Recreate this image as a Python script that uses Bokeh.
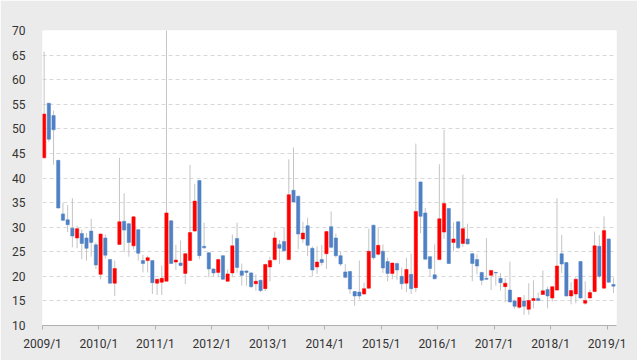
import pandas as pd
from bokeh.plotting import figure
from bokeh.models import ColumnDataSource, FixedTicker, Range1d
from bokeh.embed import file_html
from bokeh.resources import INLINE

# Monthly candles 2009/1 .. 2019/2
months = [d.strftime("%Y/") + str(d.month) for d in pd.date_range("2009-01-01", periods=122, freq="MS")]

open_ = [44.1, 55.2, 52.7, 43.6, 32.7, 31.5, 29.8, 27.8, 28.7, 27.8, 29.2, 26.4,
         20.4, 27.8, 23.4, 18.6, 26.5, 31.2, 30.7, 26.2, 29.5, 23.2, 23.2, 23.2,
         18.6, 18.8, 19.0, 31.3, 22.9, 22.7, 20.6, 23.2, 29.2, 39.5, 26.1, 24.8,
         21.5, 20.8, 24.2, 19.0, 20.7, 27.7, 21.1, 21.1, 20.7, 18.5, 19.2, 17.5,
         21.9, 23.4, 26.5, 27.1, 23.4, 37.5, 36.3, 27.6, 30.3, 25.7, 21.9, 23.4,
         24.6, 30.1, 27.8, 24.2, 20.9, 21.0, 16.9, 16.8, 16.4, 17.6, 30.4, 24.5,
         25.1, 23.0, 20.6, 22.6, 20.0, 18.6, 20.4, 17.7, 39.2, 32.9, 24.0, 20.3,
         23.4, 29.0, 33.8, 26.9, 31.1, 26.7, 27.6, 24.6, 23.4, 20.8, 19.6, 20.2,
         20.8, 19.6, 17.9, 17.2, 15.0, 13.7, 15.0, 13.3, 15.1, 15.5, 16.3, 17.3,
         15.6, 17.2, 24.6, 22.8, 16.0, 16.4, 23.0, 14.55, 15.6, 16.9, 26.1, 17.6,
         27.6, 18.35]
close = [53.0, 47.9, 49.8, 33.9, 31.4, 30.5, 28.2, 29.7, 26.7, 25.7, 26.9, 22.3,
         28.6, 24.3, 18.6, 21.6, 31.1, 29.4, 26.9, 32.1, 24.7, 22.6, 23.8, 18.7,
         19.4, 19.6, 32.9, 22.6, 23.3, 22.2, 24.6, 28.9, 35.3, 24.2, 25.8, 21.5,
         20.7, 23.4, 19.4, 20.5, 26.2, 21.8, 20.2, 20.8, 17.9, 19.0, 17.1, 22.4,
         23.2, 27.8, 25.7, 25.2, 36.6, 35.1, 28.6, 28.8, 26.3, 21.3, 22.9, 22.8,
         29.1, 25.9, 24.2, 22.5, 19.8, 17.4, 16.0, 16.0, 17.5, 25.1, 23.8, 26.3,
         21.7, 20.6, 22.7, 21.3, 18.5, 21.4, 17.5, 33.2, 32.2, 23.5, 21.6, 19.5,
         31.7, 34.8, 22.6, 27.6, 25.8, 29.7, 26.6, 22.6, 22.1, 19.2, 19.4, 21.2,
         20.7, 18.7, 18.6, 14.8, 13.9, 15.7, 13.9, 15.1, 15.5, 15.1, 17.05, 16.0,
         17.9, 22.1, 22.5, 16.0, 17.1, 19.4, 15.6, 15.1, 16.7, 26.2, 20.0, 29.3,
         18.8, 18.0]
high = [65.7, 55.3, 53.7, 43.6, 35.0, 34.5, 35.9, 30.3, 29.5, 28.8, 31.7, 26.9,
        28.7, 28.5, 23.5, 23.2, 44.1, 36.9, 30.9, 32.2, 29.6, 24.4, 24.2, 23.3,
        19.5, 22.2, 70.0, 31.4, 26.4, 27.3, 24.7, 42.7, 38.8, 39.6, 30.9, 24.9,
        21.6, 23.6, 24.3, 21.4, 28.5, 30.9, 22.6, 21.2, 20.9, 20.4, 19.3, 22.6,
        24.0, 29.1, 27.4, 29.9, 43.8, 46.2, 36.4, 31.1, 31.9, 26.1, 26.1, 26.4,
        29.2, 33.2, 28.7, 25.1, 22.5, 21.1, 17.0, 23.2, 18.7, 29.7, 30.5, 30.0,
        26.5, 23.8, 22.8, 22.8, 21.8, 23.8, 24.6, 47.0, 39.3, 33.9, 24.1, 26.5,
        42.8, 49.8, 33.9, 31.0, 31.2, 40.7, 30.7, 24.7, 24.5, 20.9, 27.8, 21.3,
        20.9, 20.7, 19.6, 23.0, 15.3, 15.8, 16.2, 18.6, 19.2, 16.7, 21.2, 17.9,
        17.95, 35.9, 28.4, 22.9, 18.8, 19.8, 23.1, 19.0, 17.3, 29.1, 28.4, 32.2,
        27.7, 19.8]
low = [44.0, 47.4, 42.7, 33.8, 31.2, 29.0, 25.9, 25.7, 23.5, 23.2, 24.0, 21.5,
       19.4, 23.6, 18.5, 16.0, 26.4, 24.9, 24.0, 25.5, 23.2, 20.8, 20.8, 16.4,
       16.2, 16.2, 19.0, 22.5, 21.3, 22.0, 18.4, 23.1, 29.1, 23.5, 25.6, 19.8,
       20.0, 19.8, 19.3, 18.9, 19.8, 20.7, 18.1, 18.1, 17.6, 17.1, 16.8, 17.0,
       19.0, 23.3, 22.5, 25.1, 23.3, 35.0, 25.5, 26.8, 24.1, 20.0, 20.5, 22.2,
       21.5, 25.7, 23.8, 22.1, 19.6, 16.4, 14.0, 15.3, 16.3, 17.5, 23.4, 24.2,
       20.7, 19.0, 19.4, 19.3, 17.3, 16.8, 16.4, 16.8, 28.8, 23.4, 20.0, 19.4,
       23.3, 27.6, 22.5, 25.1, 25.5, 26.0, 26.5, 19.0, 20.4, 18.2, 19.2, 17.2,
       18.1, 17.1, 14.7, 14.7, 13.4, 13.4, 12.2, 12.2, 13.5, 14.9, 16.2, 13.5,
       14.9, 17.1, 20.7, 15.9, 14.3, 14.5, 15.5, 14.2, 15.5, 16.8, 19.6, 17.5,
       18.7, 16.6]

year_labels = ["2009/1", "2010/1", "2011/1", "2012/1", "2013/1", "2014/1",
               "2015/1", "2016/1", "2017/1", "2018/1", "2019/1"]
y_ticks = [10, 15, 20, 25, 30, 35, 40, 45, 50, 55, 60, 65, 70]

UP = "#ff0000"
DOWN = "#4f81c4"

idx = list(range(len(months)))
xs = [i + 0.35 for i in idx]
up = [c >= o for o, c in zip(open_, close)]
src = ColumnDataSource(dict(
    x=xs,
    high=high,
    low=low,
    top=[max(o, c) for o, c in zip(open_, close)],
    bottom=[min(o, c) for o, c in zip(open_, close)],
    color=[UP if u else DOWN for u in up],
    month=months,
))

p = figure(width=637, height=360, x_range=Range1d(0, len(months)), y_range=Range1d(10, 70),
           output_backend="svg", toolbar_location=None,
           min_border_left=42, min_border_right=21, min_border_top=30, min_border_bottom=35)
p.background_fill_color = "white"
p.border_fill_color = "#ebebeb"
p.outline_line_color = None

p.segment(x0="x", y0="low", x1="x", y1="high", source=src, line_color="#c4c4c4", line_width=1)
p.vbar(x="x", width=0.7, top="top", bottom="bottom", source=src,
       fill_color="color", line_color="color", line_width=0.5)

tick_pos = [months.index(l) for l in year_labels]
p.xaxis.ticker = FixedTicker(ticks=tick_pos)
p.xaxis.major_label_overrides = {t: l for t, l in zip(tick_pos, year_labels)}
p.xaxis.axis_line_color = "#b0b0b0"
p.xaxis.major_tick_line_color = "#b0b0b0"
p.xaxis.major_tick_out = 4
p.xaxis.major_tick_in = 0
p.xaxis.minor_tick_line_color = None
p.xaxis.major_label_standoff = 7

p.yaxis.ticker = FixedTicker(ticks=y_ticks)
p.yaxis.axis_line_color = None
p.yaxis.major_tick_line_color = None
p.yaxis.minor_tick_line_color = None
p.yaxis.major_label_standoff = 11

for ax in (p.xaxis, p.yaxis):
    ax.major_label_text_font = "Roboto"
    ax.major_label_text_font_size = "12px"
    ax.major_label_text_color = "#333333"

p.xgrid.visible = False
p.ygrid.ticker = FixedTicker(ticks=y_ticks[1:-1])
p.ygrid.grid_line_color = "#d8d8d8"
p.ygrid.grid_line_dash = "4 3"
p.ygrid.grid_line_width = 1

open("out.html", "w").write(file_html(p, INLINE))
